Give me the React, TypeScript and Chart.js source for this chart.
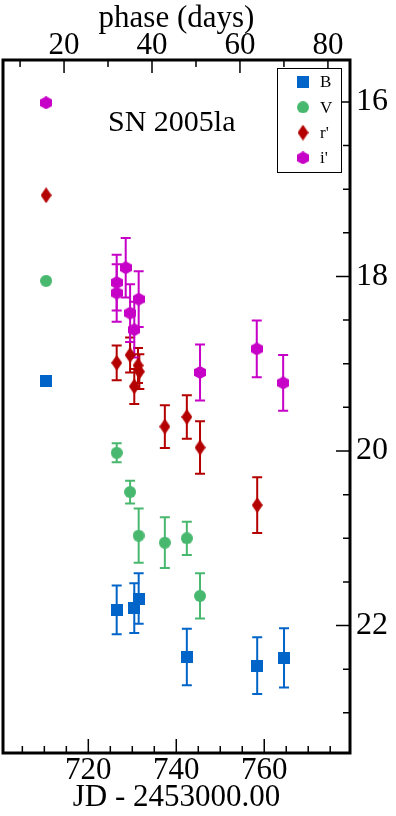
import React, { useEffect, useRef } from 'react';
import { Chart, registerables } from 'chart.js';

Chart.register(...registerables);

// ---- data (JD - 2453000, magnitudes, errors) ----
const PHASE_ZERO = 694.48; // JD-2453000 at phase 0
const X_MIN = 700.6;
const X_MAX = 779.5;
const Y_MIN = 15.52;
const Y_MAX = 23.46;

const JD_TICKS = [720, 740, 760];
const PHASE_TICKS = [20, 40, 60, 80];
const MAG_TICKS = [16, 18, 20, 22];

const B_JD = [710.4, 726.45, 730.45, 731.45, 742.4, 758.4, 764.5];
const B_MAG = [19.2, 21.82, 21.8, 21.69, 22.36, 22.46, 22.37];
const B_ERR = [0, 0.28, 0.285, 0.29, 0.325, 0.325, 0.34];

const V_JD = [710.4, 726.45, 729.5, 731.45, 737.4, 742.4, 745.4];
const V_MAG = [18.05, 20.02, 20.47, 20.97, 21.05, 21.0, 21.66];
const V_ERR = [0, 0.11, 0.13, 0.31, 0.29, 0.19, 0.26];

const R_JD = [710.4, 726.45, 729.5, 730.45, 731.3, 731.6, 737.4, 742.4, 745.4, 758.4];
const R_MAG = [17.07, 18.99, 18.9, 19.26, 19.02, 19.09, 19.72, 19.61, 19.96, 20.62];
const R_ERR = [0, 0.2, 0.2, 0.2, 0.2, 0.2, 0.245, 0.25, 0.3, 0.32];

const I_JD = [710.4, 726.45, 726.45, 728.5, 729.5, 730.45, 731.45, 745.4, 758.3, 764.3];
const I_MAG = [16.01, 18.07, 18.19, 17.9, 18.42, 18.61, 18.26, 19.1, 18.83, 19.22];
const I_ERR = [0, 0.32, 0.33, 0.34, 0.33, 0.32, 0.32, 0.32, 0.325, 0.32];

const BANDS = [
  { label: 'B', jd: B_JD, mag: B_MAG, err: B_ERR, color: '#0064c8', shape: 'square' },
  { label: 'V', jd: V_JD, mag: V_MAG, err: V_ERR, color: '#48b86e', shape: 'circle' },
  { label: "r'", jd: R_JD, mag: R_MAG, err: R_ERR, color: '#b40000', shape: 'diamond' },
  { label: "i'", jd: I_JD, mag: I_MAG, err: I_ERR, color: '#c600c6', shape: 'hex' },
];

const SERIF = "'Liberation Serif', 'DejaVu Serif', serif";

function makeMarker(shape: string, color: string): HTMLCanvasElement {
  const c = document.createElement('canvas');
  let w = 12, h = 12;
  if (shape === 'diamond') { w = 11; h = 16; }
  if (shape === 'hex') { w = 12; h = 13; }
  c.width = w; c.height = h;
  const g = c.getContext('2d')!;
  g.fillStyle = color;
  g.beginPath();
  if (shape === 'square') {
    g.rect(0, 0, w, h);
  } else if (shape === 'circle') {
    g.arc(w / 2, h / 2, w / 2, 0, Math.PI * 2);
  } else if (shape === 'diamond') {
    g.moveTo(w / 2, 0); g.lineTo(w, h / 2); g.lineTo(w / 2, h); g.lineTo(0, h / 2);
    g.closePath();
  } else {
    const cx = w / 2, cy = h / 2, r = h / 2;
    for (let k = 0; k < 6; k++) {
      const a = -Math.PI / 2 + (k * Math.PI) / 3;
      const px = cx + Math.cos(a) * (w / 2) / Math.cos(Math.PI / 6);
      const py = cy + r * Math.sin(a);
      if (k === 0) g.moveTo(px, py); else g.lineTo(px, py);
    }
    g.closePath();
  }
  g.fill();
  return c;
}

const errorBarPlugin = {
  id: 'errorBars',
  beforeDatasetsDraw(chart: any) {
    const { ctx, scales } = chart;
    const xs = scales.x, ys = scales.y;
    chart.data.datasets.forEach((ds: any) => {
      const errs: number[] = ds.errors || [];
      ctx.save();
      ctx.strokeStyle = ds.errColor;
      ctx.lineWidth = 2;
      ds.data.forEach((p: any, i: number) => {
        const e = errs[i];
        if (!e) return;
        const px = xs.getPixelForValue(p.x);
        const y1 = ys.getPixelForValue(p.y - e);
        const y2 = ys.getPixelForValue(p.y + e);
        ctx.beginPath();
        ctx.moveTo(px, y1); ctx.lineTo(px, y2);
        ctx.moveTo(px - 5, y1); ctx.lineTo(px + 5, y1);
        ctx.moveTo(px - 5, y2); ctx.lineTo(px + 5, y2);
        ctx.stroke();
      });
      ctx.restore();
    });
  },
};

const framePlugin = {
  id: 'frameTicks',
  afterDraw(chart: any) {
    const { ctx, chartArea: a, scales } = chart;
    ctx.save();
    ctx.strokeStyle = '#000';
    ctx.lineWidth = 1.5;
    ctx.beginPath();
    for (let v = 700; v <= 780; v += 5) {
      if (v < X_MIN || v > X_MAX) continue;
      const px = scales.x.getPixelForValue(v);
      const len = v % 20 === 0 ? 14 : 7;
      ctx.moveTo(px, a.bottom); ctx.lineTo(px, a.bottom - len);
    }
    for (let v = 10; v <= 80; v += 10) {
      const px = scales.x2.getPixelForValue(v);
      if (px < a.left || px > a.right) continue;
      const len = v % 20 === 0 ? 13 : 7;
      ctx.moveTo(px, a.top); ctx.lineTo(px, a.top + len);
    }
    for (let v = 15.5; v <= 23.5; v += 0.5) {
      if (v < Y_MIN || v > Y_MAX) continue;
      const py = scales.y.getPixelForValue(v);
      const len = v % 2 === 0 ? 14 : 7;
      ctx.moveTo(a.right, py); ctx.lineTo(a.right - len, py);
    }
    ctx.stroke();
    ctx.lineWidth = 3;
    ctx.strokeRect(a.left, a.top, a.right - a.left, a.bottom - a.top);

    ctx.fillStyle = '#000';
    ctx.font = `30px ${SERIF}`;
    ctx.textAlign = 'left';
    ctx.textBaseline = 'alphabetic';
    ctx.fillText('SN 2005la', a.left + 105, a.top + 71);

    const bx = a.right - 73, by = a.top + 8, bw = 64, bh = 104;
    ctx.fillStyle = '#fff';
    ctx.fillRect(bx, by, bw, bh);
    ctx.lineWidth = 1;
    ctx.strokeStyle = '#000';
    ctx.strokeRect(bx + 0.5, by + 0.5, bw, bh);
    ctx.font = `17px ${SERIF}`;
    ctx.textBaseline = 'middle';
    chart.data.datasets.forEach((ds: any, i: number) => {
      const cy = by + 14 + i * 25.3;
      const m: HTMLCanvasElement = ds.pointStyle;
      ctx.drawImage(m, bx + 26 - m.width / 2, cy - m.height / 2);
      ctx.fillStyle = '#000';
      ctx.fillText(ds.label, bx + 43, cy + 1);
    });
    ctx.restore();
  },
};

export default function App() {
  const ref = useRef<HTMLCanvasElement | null>(null);

  useEffect(() => {
    if (!ref.current) return;
    const datasets = BANDS.map((b) => ({
      label: b.label,
      data: b.jd.map((x, i) => ({ x, y: b.mag[i] })),
      errors: b.err,
      errColor: b.color,
      pointStyle: makeMarker(b.shape, b.color),
      pointRadius: 6,
      showLine: false,
      xAxisID: 'x',
      yAxisID: 'y',
    }));
    const tickFont = { family: SERIF, size: 31 };
    const chart = new Chart(ref.current, {
      type: 'scatter',
      data: { datasets } as any,
      plugins: [errorBarPlugin, framePlugin],
      options: {
        animation: false,
        responsive: false,
        events: [],
        layout: { autoPadding: false, padding: { left: 3, right: 0, top: 0, bottom: 0 } },
        plugins: { legend: { display: false }, tooltip: { enabled: false } },
        scales: {
          x: {
            type: 'linear',
            position: 'bottom',
            min: X_MIN,
            max: X_MAX,
            afterBuildTicks: (s: any) => { s.ticks = JD_TICKS.map((v) => ({ value: v })); },
            afterFit: (s: any) => { s.height = 63; s.paddingLeft = 0; s.paddingRight = 0; },
            grid: { display: false, drawTicks: false },
            border: { display: false },
            ticks: { font: tickFont, color: '#000', padding: -1, maxRotation: 0, autoSkip: false, callback: (v: any) => String(v) },
            title: { display: true, text: 'JD - 2453000.00', font: tickFont, color: '#000', padding: { top: 0, bottom: 0 } },
          },
          x2: {
            type: 'linear',
            position: 'top',
            min: X_MIN - PHASE_ZERO,
            max: X_MAX - PHASE_ZERO,
            afterBuildTicks: (s: any) => { s.ticks = PHASE_TICKS.map((v) => ({ value: v })); },
            afterFit: (s: any) => { s.height = 60; s.paddingLeft = 0; s.paddingRight = 0; },
            grid: { display: false, drawTicks: false },
            border: { display: false },
            ticks: { font: tickFont, color: '#000', padding: -4, maxRotation: 0, autoSkip: false, callback: (v: any) => String(v) },
            title: { display: true, text: 'phase (days)', font: tickFont, color: '#000', padding: { top: 0, bottom: 0 } },
          },
          y: {
            type: 'linear',
            position: 'right',
            reverse: true,
            min: Y_MIN,
            max: Y_MAX,
            afterBuildTicks: (s: any) => { s.ticks = MAG_TICKS.map((v) => ({ value: v })); },
            afterFit: (s: any) => { s.width = 46; },
            grid: { display: false, drawTicks: false },
            border: { display: false },
            ticks: { font: { family: SERIF, size: 32 }, color: '#000', padding: 6, autoSkip: false, callback: (v: any) => String(v) },
          },
        },
      } as any,
    });
    return () => chart.destroy();
  }, []);

  return (
    <div style={{ position: 'absolute', left: 0, top: 0, width: 396, height: 816, background: '#fff' }}>
      <canvas ref={ref} width={396} height={816} style={{ display: 'block' }} />
    </div>
  );
}
